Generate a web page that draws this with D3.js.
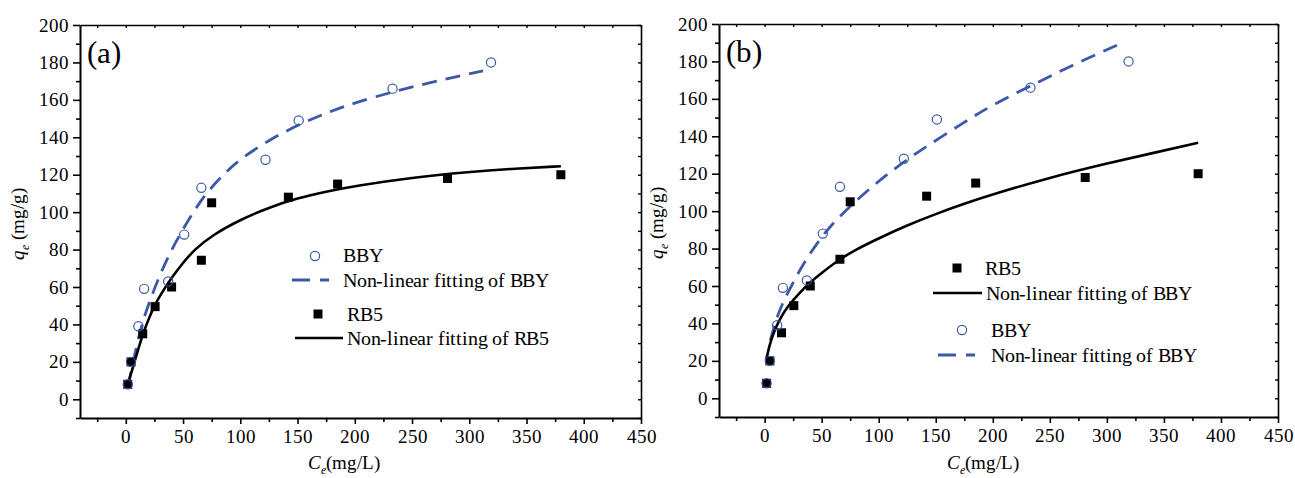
<!DOCTYPE html>
<html>
<head>
<meta charset="utf-8">
<script src="https://cdn.jsdelivr.net/npm/d3@7"></script>
<style>
  @font-face { font-family: "ChartSerif"; src: local("Liberation Serif"), local("LiberationSerif-Regular"), local("LiberationSerif"), local("DejaVu Serif"), local("DejaVuSerif"); font-style: normal; }
  @font-face { font-family: "ChartSerif"; src: local("Liberation Serif Italic"), local("LiberationSerif-Italic"), local("DejaVu Serif Italic"), local("DejaVuSerif-Italic"); font-style: italic; }
  body { margin: 0; background: #fff; }
  svg text { font-family: "ChartSerif", "Liberation Serif", "Times New Roman", Times, "Nimbus Roman", "Noto Serif", "DejaVu Serif", serif !important; fill: #000; }
</style>
</head>
<body>
<div id="chart"></div>
<script>
// measured data (same points in both panels)
const bbyPoints = [[1.7, 8], [4.5, 20], [11, 39], [16, 59], [37, 63], [51, 88], [66, 113], [122, 128], [151, 149], [233, 166], [319, 180]];
const rb5Points = [[1.7, 8], [4.6, 20], [14.8, 35], [25.6, 49.5], [40, 60], [66, 74.3], [75, 105], [142, 108], [185, 115], [281, 118], [380, 120]];

// fitted curves
const fitBbyA = [[2, 7], [5, 16], [10, 30], [15, 42], [20, 51], [30, 67], [40, 80], [50, 91], [60, 101], [70, 110], [85, 120], [100, 128.5], [125, 138.5], [150, 146.5], [175, 153], [200, 158.5], [237, 165], [275, 170.5], [312, 175.5]];
const fitRb5A = [[1.7, 8], [5, 14.5], [10, 25], [15, 35], [20, 43], [25, 50], [30, 55.5], [40, 65], [50, 73], [60, 80], [75, 87.5], [100, 96], [125, 102.5], [150, 107.5], [175, 111], [200, 114], [250, 118.5], [300, 121.5], [340, 123.3], [380, 124.5]];

// fitted curves
const fitBbyB = [[5, 31], [10, 42], [15, 50], [25, 62], [35, 73], [50, 86.5], [65, 97], [90, 111], [110, 121], [135, 132], [175, 147.5], [200, 157], [240, 169], [275, 179.5], [312, 189.5]];
const fitRb5B = [[1.5, 20.5], [3, 25], [5, 30], [10, 38.5], [15, 44], [20, 49], [30, 56], [40, 62], [50, 67], [65, 74], [80, 79.5], [100, 85.5], [125, 92.5], [150, 98.5], [175, 104], [200, 109], [250, 118], [300, 125.5], [340, 131], [380, 136.5]];

const xTicks = [0, 50, 100, 150, 200, 250, 300, 350, 400, 450];
const yTicks = [0, 20, 40, 60, 80, 100, 120, 140, 160, 180, 200];

const blue = '#3d57a9';
const width = 1295, height = 478;
const serif = 'ChartSerif, "Liberation Serif", serif';

const svg = d3.select('#chart').append('svg')
  .attr('width', width)
  .attr('height', height)
  .attr('font-family', serif);

function drawPanel(opt) {
  const x = d3.scaleLinear().domain([-40, 450]).range([opt.left, opt.right]);
  const y = d3.scaleLinear().domain([-10, 200]).range([opt.bottom, opt.top]);
  const g = svg.append('g');

  // bottom axis
  const xMinor = d3.range(-25, 451, 25).filter(v => v % 50 !== 0);
  g.append('g')
    .attr('transform', `translate(0,${opt.bottom})`)
    .call(d3.axisBottom(x).tickValues(xMinor).tickSize(4).tickFormat(''))
    .call(a => a.select('.domain').remove())
    .call(a => a.selectAll('line').attr('stroke-width', 1.6));
  const xAx = g.append('g')
    .attr('transform', `translate(0,${opt.bottom})`)
    .call(d3.axisBottom(x).tickValues(xTicks).tickSize(6).tickPadding(6).tickSizeOuter(0))
    .attr('font-family', serif);
  xAx.select('.domain').attr('stroke-width', 2);
  xAx.selectAll('line').attr('stroke-width', 1.6);
  xAx.selectAll('text').attr('font-size', 19);

  // left axis
  const yMinor = d3.range(-10, 201, 10).filter(v => v % 20 !== 0);
  g.append('g')
    .attr('transform', `translate(${opt.left},0)`)
    .call(d3.axisLeft(y).tickValues(yMinor).tickSize(4).tickFormat(''))
    .call(a => a.select('.domain').remove())
    .call(a => a.selectAll('line').attr('stroke-width', 1.6));
  const yAx = g.append('g')
    .attr('transform', `translate(${opt.left},0)`)
    .call(d3.axisLeft(y).tickValues(yTicks).tickSize(7).tickPadding(4).tickSizeOuter(0))
    .attr('font-family', serif);
  yAx.select('.domain').attr('stroke-width', 2);
  yAx.selectAll('line').attr('stroke-width', 1.6);
  yAx.selectAll('text').attr('font-size', 19);

  // top and right axes, ticks inward
  g.append('g')
    .attr('transform', `translate(0,${opt.top})`)
    .call(d3.axisTop(x).tickValues(d3.range(-25, 451, 25)).tickSize(-3).tickFormat('').tickSizeOuter(0))
    .call(a => a.select('.domain').attr('stroke-width', 1.6))
    .call(a => a.selectAll('line').attr('stroke-width', 1.4));
  g.append('g')
    .attr('transform', `translate(${opt.right},0)`)
    .call(d3.axisRight(y).tickValues(d3.range(-10, 201, 10)).tickSize(-3).tickFormat('').tickSizeOuter(0))
    .call(a => a.select('.domain').attr('stroke-width', 1.6))
    .call(a => a.selectAll('line').attr('stroke-width', 1.4));

  // fitted lines
  const line = d3.line().x(d => x(d[0])).y(d => y(d[1])).curve(d3.curveBasis);
  g.append('path').datum(opt.fitBby)
    .attr('d', line).attr('fill', 'none')
    .attr('stroke', blue).attr('stroke-width', 2.8)
    .attr('stroke-dasharray', '15,9');
  g.append('path').datum(opt.fitRb5)
    .attr('d', line).attr('fill', 'none')
    .attr('stroke', '#000').attr('stroke-width', 2.6);

  // points
  g.selectAll('.sq').data(rb5Points).join('rect')
    .attr('x', d => x(d[0]) - 4.5).attr('y', d => y(d[1]) - 4.5)
    .attr('width', 9).attr('height', 9).attr('fill', '#000');
  g.selectAll('.ci').data(bbyPoints).join('circle')
    .attr('cx', d => x(d[0])).attr('cy', d => y(d[1]))
    .attr('r', 4.6).attr('fill', 'none')
    .attr('stroke', blue).attr('stroke-width', 1.2);

  // panel label
  g.append('text').attr('x', opt.left + 7).attr('y', opt.top + 38)
    .attr('font-size', 31).text(opt.label);

  // axis titles
  const xt = g.append('text').attr('x', opt.left + 228).attr('y', 469).attr('font-size', 19);
  xt.append('tspan').attr('font-style', 'italic').text('C');
  xt.append('tspan').attr('font-style', 'italic').attr('font-size', 12).attr('dy', 5).text('e');
  xt.append('tspan').attr('dy', -5).text('(mg/L)');

  const yt = g.append('text')
    .attr('transform', `translate(${opt.left - 56},${(opt.top + opt.bottom) / 2 + 2}) rotate(-90)`)
    .attr('text-anchor', 'middle').attr('font-size', 19);
  yt.append('tspan').attr('font-style', 'italic').text('q');
  yt.append('tspan').attr('font-style', 'italic').attr('font-size', 12).attr('dy', 5).text('e');
  yt.append('tspan').attr('dy', -5).text(' (mg/g)');

  // legend
  opt.legend.forEach(it => {
    if (it.type === 'circle') {
      g.append('circle').attr('cx', it.mx).attr('cy', it.my).attr('r', 4.6)
        .attr('fill', 'none').attr('stroke', blue).attr('stroke-width', 1.2);
    } else if (it.type === 'square') {
      g.append('rect').attr('x', it.mx - 4.5).attr('y', it.my - 4.5)
        .attr('width', 9).attr('height', 9).attr('fill', '#000');
    } else if (it.type === 'dash') {
      g.append('line').attr('x1', it.x1).attr('x2', it.x2).attr('y1', it.my).attr('y2', it.my)
        .attr('stroke', blue).attr('stroke-width', 2.8).attr('stroke-dasharray', '18,10');
    } else {
      g.append('line').attr('x1', it.x1).attr('x2', it.x2).attr('y1', it.my).attr('y2', it.my)
        .attr('stroke', '#000').attr('stroke-width', 2.6);
    }
    g.append('text').attr('x', it.tx).attr('y', it.ty)
      .attr('font-size', 19.5).attr('letter-spacing', -0.2).text(it.text);
  });
}

drawPanel({
  left: 80, right: 641, top: 25, bottom: 418, label: '(a)',
  fitBby: fitBbyA, fitRb5: fitRb5A,
  legend: [
    { type: 'circle', mx: 315, my: 256, tx: 343, ty: 262, text: 'BBY' },
    { type: 'dash', x1: 292, x2: 329, my: 280, tx: 343, ty: 287, text: 'Non-linear fitting of BBY' },
    { type: 'square', mx: 318, my: 314, tx: 347, ty: 321, text: 'RB5' },
    { type: 'solid', x1: 295, x2: 343, my: 338, tx: 347, ty: 345, text: 'Non-linear fitting of RB5' }
  ]
});

drawPanel({
  left: 719, right: 1278, top: 24, bottom: 417, label: '(b)',
  fitBby: fitBbyB, fitRb5: fitRb5B,
  legend: [
    { type: 'square', mx: 957, my: 268, tx: 985, ty: 275, text: 'RB5' },
    { type: 'solid', x1: 933, x2: 982, my: 293, tx: 986, ty: 300, text: 'Non-linear fitting of BBY' },
    { type: 'circle', mx: 962, my: 330, tx: 991, ty: 337, text: 'BBY' },
    { type: 'dash', x1: 938, x2: 975, my: 355, tx: 991, ty: 362, text: 'Non-linear fitting of BBY' }
  ]
});
</script>
</body>
</html>
